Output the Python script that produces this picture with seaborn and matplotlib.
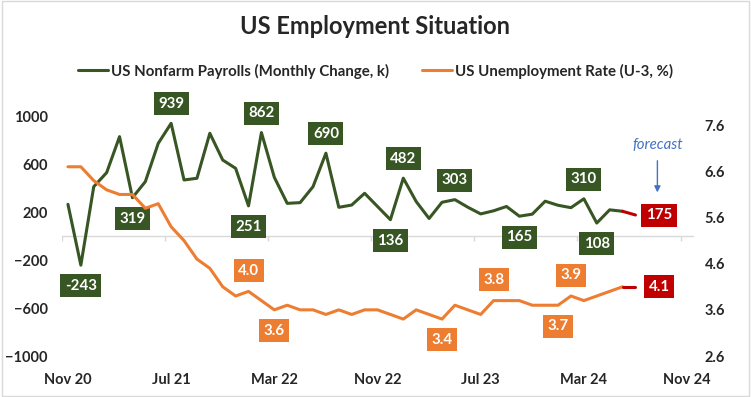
import pandas as pd
import matplotlib.pyplot as plt
import seaborn as sns
from matplotlib.patches import Rectangle

# DATA
# ----
months = pd.date_range("2020-11-01", "2024-06-01", freq="MS")
payrolls = [264, -243, 411, 528, 828, 319, 453, 772, 939, 467, 481, 856,
            633, 564, 251, 862, 489, 272, 278, 411, 690, 239, 258, 356,
            246, 136, 482, 287, 146, 281, 303, 240, 184, 210, 246, 165,
            182, 290, 256, 236, 310, 108, 218, 206]
unemployment = [6.7, 6.7, 6.4, 6.2, 6.1, 6.1, 5.8, 5.9, 5.4, 5.1, 4.7, 4.5,
                4.1, 3.9, 4.0, 3.8, 3.6, 3.7, 3.6, 3.6, 3.5, 3.6, 3.5, 3.6,
                3.6, 3.5, 3.4, 3.6, 3.5, 3.4, 3.7, 3.6, 3.5, 3.8, 3.8, 3.8,
                3.7, 3.7, 3.7, 3.9, 3.8, 3.9, 4.0, 4.1]
forecast_month = "2024-07"
forecast_payrolls = 175
forecast_unemployment = 4.1

# labelled points
payroll_above = ["2021-07", "2022-02", "2022-07", "2023-01", "2023-05", "2024-03"]
payroll_below = ["2020-12", "2021-04", "2022-01", "2022-12", "2023-10", "2024-04"]
unemp_above = ["2022-01", "2023-08", "2024-02"]
unemp_below = ["2022-03", "2023-04", "2024-01"]

tick_months = pd.date_range("2020-11-01", periods=7, freq="8MS")

GREEN = "#375623"
ORANGE = "#ED7D31"
RED = "#C00000"

df = pd.DataFrame({"month": months, "payrolls": payrolls, "unemployment": unemployment})
df["pos"] = range(len(df))
fc_pos = len(df)
fc = pd.DataFrame({"pos": [fc_pos - 1, fc_pos],
                   "payrolls": [payrolls[-1], forecast_payrolls],
                   "unemployment": [unemployment[-1], forecast_unemployment]})


def pos_of(m):
    return int(((pd.Timestamp(m).year - 2020) * 12 + pd.Timestamp(m).month) - 11)


# PLOT
# ----
sns.set_style("white")
plt.rcParams["font.family"] = ["Lato", "DejaVu Sans"]
plt.rcParams["font.weight"] = "bold"

fig = plt.figure(figsize=(7.51, 3.97), dpi=100)
ax = fig.add_axes([61.5 / 751, 1 - 356 / 397, 632 / 751, 240 / 397])
ax2 = ax.twinx()

sns.lineplot(data=df, x="pos", y="payrolls", ax=ax, color=GREEN, linewidth=2.2,
             label="US Nonfarm Payrolls (Monthly Change, k)", legend=False)
sns.lineplot(data=fc, x="pos", y="payrolls", ax=ax, color=RED, linewidth=2.2, legend=False)
sns.lineplot(data=df, x="pos", y="unemployment", ax=ax2, color=ORANGE, linewidth=2.2,
             label="US Unemployment Rate (U-3, %)", legend=False)
sns.lineplot(data=fc, x="pos", y="unemployment", ax=ax2, color=RED, linewidth=2.2, legend=False)

# axes
ax.set_xlim(-0.5, 48.5)
ax.set_ylim(-1000, 1000)
ax.set_yticks(range(-1000, 1001, 400))
ax2.set_ylim(2.6, 7.8)
ax2.set_yticks([2.6, 3.6, 4.6, 5.6, 6.6, 7.6])
ax2.set_yticklabels([f"{v:.1f}" for v in ax2.get_yticks()])
ax.set_xticks([pos_of(m) for m in tick_months])
ax.set_xticklabels([m.strftime("%b %y") for m in tick_months])
for a in (ax, ax2):
    a.set_xlabel("")
    a.set_ylabel("")
    for s in a.spines.values():
        s.set_visible(False)
    a.tick_params(length=0, labelsize=10.5)
ax.tick_params(axis="y", pad=10)
ax2.tick_params(axis="y", pad=8)
ax.tick_params(axis="x", pad=12)

# category axis line at zero with tick marks between categories
ax.axhline(0, color="#D9D9D9", lw=1, zorder=0)
ax.vlines([p - 0.5 for p in range(0, 49, 8)], -40, 0, color="#D9D9D9", lw=1, zorder=0)


def box_label(a, x, y, text, color, dx, dy):
    a.annotate(text, (x, y), xytext=(dx, dy), textcoords="offset points",
               ha="center", va="center", color="white", fontsize=10.8, fontweight="bold",
               bbox=dict(boxstyle="square,pad=0.3", fc=color, ec="none"),
               annotation_clip=False, zorder=5)


for m in payroll_above:
    p = pos_of(m)
    box_label(ax, p, payrolls[p], f"{payrolls[p]}", GREEN, 0, 14)
for m in payroll_below:
    p = pos_of(m)
    box_label(ax, p, payrolls[p], f"{payrolls[p]}", GREEN, 0, -15)
for m in unemp_above:
    p = pos_of(m)
    box_label(ax2, p, unemployment[p], f"{unemployment[p]:.1f}", ORANGE, 0, 15)
for m in unemp_below:
    p = pos_of(m)
    box_label(ax2, p, unemployment[p], f"{unemployment[p]:.1f}", ORANGE, 0, -15)
box_label(ax, fc_pos, forecast_payrolls, f"{forecast_payrolls}", RED, 17, 0)
box_label(ax2, fc_pos, forecast_unemployment, f"{forecast_unemployment:.1f}", RED, 17, 0)

# forecast note
ax.annotate("", xy=(fc_pos + 1.7, 340), xytext=(fc_pos + 1.7, 650),
            arrowprops=dict(arrowstyle="-|>", color="#4472C4", lw=1, mutation_scale=9),
            annotation_clip=False)
ax.text(fc_pos + 1.7, 755, "forecast", ha="center", va="center", color="#4472C4",
        fontsize=10.8, fontstyle="italic", fontweight="normal")

# title and legend
fig.text(0.5, 1 - 26 / 397, "US Employment Situation", ha="center", va="center",
         fontsize=17, fontweight="bold")
handles = ax.get_lines()[:1] + ax2.get_lines()[:1]
fig.legend(handles, [h.get_label() for h in handles], loc="center",
           bbox_to_anchor=(0.5, 1 - 71 / 397), ncol=2, frameon=False,
           prop={"size": 10.8, "weight": "bold"}, handlelength=2, handletextpad=0.2,
           columnspacing=2.2)

fig.patches.append(Rectangle((0.002, 0.003), 0.996, 0.994, transform=fig.transFigure,
                             fill=False, ec="#D9D9D9", lw=1))

plt.savefig("out.png", dpi=100)
